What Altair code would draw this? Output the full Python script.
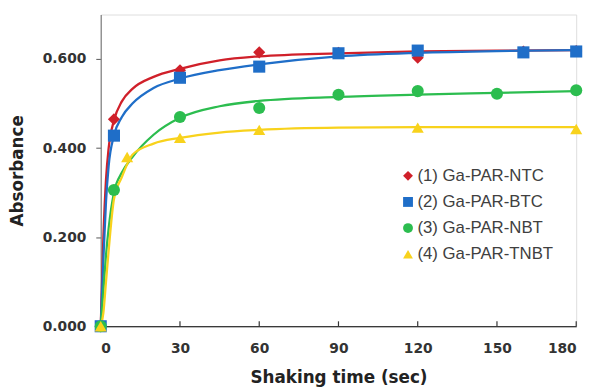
import altair as alt
import pandas as pd

series = ["(1) Ga-PAR-NTC", "(2) Ga-PAR-BTC", "(3) Ga-PAR-NBT", "(4) Ga-PAR-TNBT"]
colors = ["#d0202a", "#1f6ec8", "#2cbd4f", "#f8d21c"]
shapes = ["diamond", "square", "circle", "triangle-up"]

# measured points
x1 = [0, 5, 30, 60, 90, 120, 160, 180]
y1 = [0.000, 0.465, 0.575, 0.615, 0.614, 0.603, 0.617, 0.618]
x2 = [0, 5, 30, 60, 90, 120, 160, 180]
y2 = [0.000, 0.428, 0.558, 0.583, 0.613, 0.619, 0.615, 0.617]
x3 = [0, 5, 30, 60, 90, 120, 150, 180]
y3 = [0.000, 0.306, 0.470, 0.490, 0.520, 0.528, 0.522, 0.530]
x4 = [0, 10, 30, 60, 120, 180]
y4 = [0.000, 0.380, 0.423, 0.441, 0.446, 0.443]

# fitted curves
cx = [0, 1, 2, 3, 5, 8, 12, 20, 30, 45, 60, 90, 120, 150, 180]
c1 = [0, 0.20, 0.33, 0.40, 0.462, 0.505, 0.533, 0.560, 0.578, 0.597, 0.606, 0.613, 0.617, 0.619, 0.620]
c2 = [0, 0.15, 0.28, 0.36, 0.428, 0.470, 0.500, 0.535, 0.556, 0.575, 0.588, 0.606, 0.614, 0.618, 0.620]
c3 = [0, 0.08, 0.16, 0.22, 0.300, 0.345, 0.380, 0.430, 0.468, 0.494, 0.506, 0.515, 0.520, 0.524, 0.528]
c4 = [0, 0.03, 0.10, 0.17, 0.285, 0.335, 0.385, 0.410, 0.423, 0.435, 0.441, 0.446, 0.447, 0.447, 0.447]

xticks = [0, 30, 60, 90, 120, 150, 180]

pts = pd.concat([
    pd.DataFrame({"series": series[i], "x": xs, "y": ys})
    for i, (xs, ys) in enumerate([(x1, y1), (x2, y2), (x3, y3), (x4, y4)])
], ignore_index=True)
curves = pd.concat([
    pd.DataFrame({"series": series[i], "x": cx, "y": cs})
    for i, cs in enumerate([c1, c2, c3, c4])
], ignore_index=True)
ticks_df = pd.DataFrame({"x": xticks})

W, H = 482, 316
font = "DejaVu Sans"

xscale = alt.Scale(domain=[0, 180], nice=False)
yscale = alt.Scale(domain=[0, 0.7], nice=False)
cscale = alt.Scale(domain=series, range=colors)

xax = alt.Axis(values=xticks, ticks=False, labelPadding=16, labelFontSize=14,
               labelFontWeight="bold", labelColor="#333333", labelFont=font,
               title="Shaking time (sec)", titleFontSize=17, titleFontWeight="bold",
               titleColor="#222222", titleFont=font, titlePadding=14,
               domainColor="#000000", domainWidth=1.2, grid=False)
yax = alt.Axis(values=[0, 0.2, 0.4, 0.6], format=".3f", tickSize=5, tickColor="#555555",
               labelPadding=10, labelFontSize=14, labelFontWeight="bold",
               labelColor="#333333", labelFont=font,
               title="Absorbance", titleFontSize=17, titleFontWeight="bold",
               titleColor="#222222", titleFont=font, titlePadding=16,
               domainColor="#7f7f7f", domainWidth=1.2, grid=False)

legend = alt.Legend(title=None, orient="none", legendX=303, legendY=155,
                    labelFontSize=17, labelFont="Liberation Sans", labelColor="#404040",
                    symbolSize=100, symbolStrokeWidth=0, rowPadding=8.5, labelOffset=1,
                    padding=0)

lines = alt.Chart(curves).mark_line(strokeWidth=2.3, interpolate="monotone").encode(
    x=alt.X("x:Q", scale=xscale, axis=xax),
    y=alt.Y("y:Q", scale=yscale, axis=yax),
    color=alt.Color("series:N", scale=cscale, legend=legend),
)

points = alt.Chart(pts).mark_point(filled=True, opacity=1, size=150).encode(
    x=alt.X("x:Q", scale=xscale),
    y=alt.Y("y:Q", scale=yscale),
    color=alt.Color("series:N", scale=cscale, legend=legend),
    shape=alt.Shape("series:N", scale=alt.Scale(domain=series, range=shapes), legend=legend),
)

tickmarks = alt.Chart(ticks_df).mark_rule(color="#333333", strokeWidth=1.2).encode(
    x=alt.X("x:Q", scale=xscale),
    y=alt.value(H),
    y2=alt.value(H - 5),
)

chart = alt.layer(tickmarks, lines, points).properties(
    width=W, height=H,
    autosize=alt.AutoSizeParams(type="none"),
    padding={"left": 94, "top": 4, "right": 16, "bottom": 61},
).configure_view(
    stroke="#7f7f7f", strokeWidth=1.2
).configure(background="white")

chart.save("out.html", embed_options={"renderer": "svg", "actions": False})
